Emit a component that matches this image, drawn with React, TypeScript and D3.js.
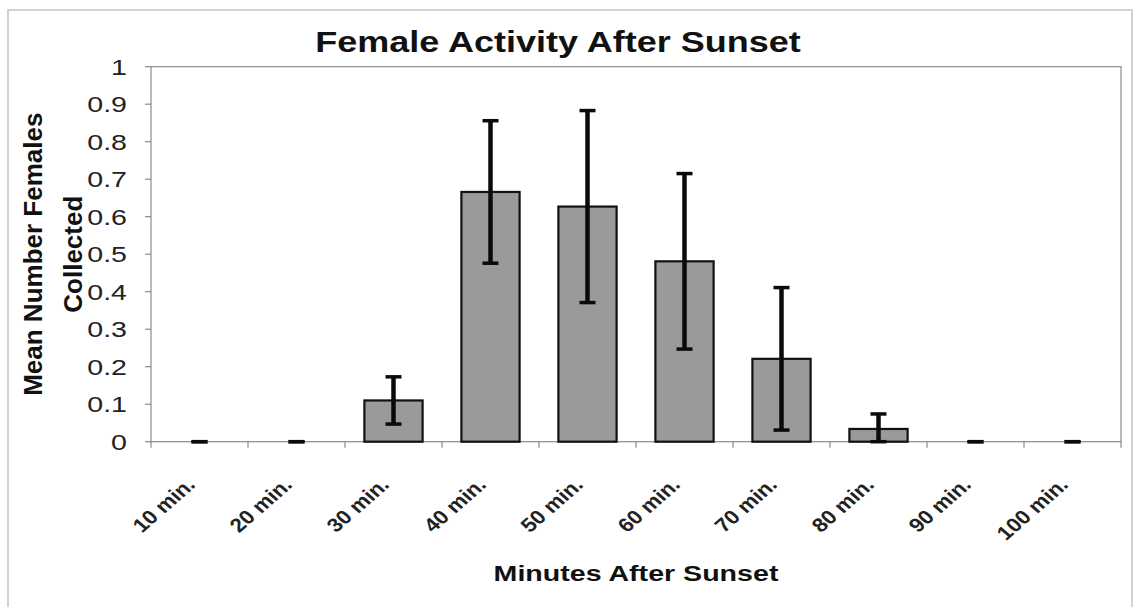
import React from "react";
import * as d3 from "d3";

// Chart data
const categories = [
  "10 min.",
  "20 min.",
  "30 min.",
  "40 min.",
  "50 min.",
  "60 min.",
  "70 min.",
  "80 min.",
  "90 min.",
  "100 min.",
];
const meanFemales = [0, 0, 0.11, 0.666, 0.627, 0.481, 0.221, 0.034, 0, 0];
const errorFemales = [0, 0, 0.063, 0.19, 0.256, 0.234, 0.19, 0.04, 0, 0];
const yTicks = [0, 0.1, 0.2, 0.3, 0.4, 0.5, 0.6, 0.7, 0.8, 0.9, 1];

const title = "Female Activity After Sunset";
const xTitle = "Minutes After Sunset";
const yTitleLines = ["Mean Number Females", "Collected"];

const App = () => {
  const width = 1134;
  const height = 607;
  const plot = { left: 151, right: 1121, top: 66.7, bottom: 441.7 };
  const font = "'Liberation Sans', Arial, sans-serif";
  const sx = 1.3; // horizontal text stretch seen in the picture

  const x = d3
    .scaleBand()
    .domain(categories)
    .range([plot.left, plot.right])
    .paddingInner(0.4)
    .paddingOuter(0.2);

  const y = d3.scaleLinear().domain([0, 1]).range([plot.bottom, plot.top]);

  const data = categories.map((c, i) => ({
    category: c,
    value: meanFemales[i],
    err: errorFemales[i],
  }));

  const step = x.step();
  const bandEdges = d3.range(categories.length + 1).map((i) => plot.left + i * step);
  const capHalf = 8;

  return (
    <svg
      width={width}
      height={height}
      style={{ position: "absolute", left: 0, top: 0, background: "#fff" }}
    >
      {/* outer chart border */}
      <rect x={8} y={10} width={1124} height={600} fill="none" stroke="#c4c4c4" strokeWidth={1.5} />

      {/* plot area frame */}
      <rect
        x={plot.left}
        y={plot.top}
        width={plot.right - plot.left}
        height={plot.bottom - plot.top}
        fill="none"
        stroke="#8a8a8a"
        strokeWidth={1.2}
      />

      {/* y ticks + labels */}
      {yTicks.map((t) => (
        <g key={t}>
          <line x1={plot.left - 6} x2={plot.left} y1={y(t)} y2={y(t)} stroke="#8a8a8a" strokeWidth={1.2} />
          <text
            transform={`translate(127,${y(t)}) scale(${sx},1)`}
            textAnchor="end"
            dy="0.36em"
            fontFamily={font}
            fontSize={22}
            fill="#222"
          >
            {t === 0 || t === 1 ? String(t) : d3.format(".1f")(t)}
          </text>
        </g>
      ))}

      {/* x ticks at category boundaries */}
      {bandEdges.map((e, i) => (
        <line key={i} x1={e} x2={e} y1={plot.bottom} y2={plot.bottom + 6} stroke="#8a8a8a" strokeWidth={1.2} />
      ))}

      {/* bars */}
      {data.map((d) =>
        d.value > 0 ? (
          <rect
            key={d.category}
            x={x(d.category)}
            y={y(d.value)}
            width={x.bandwidth()}
            height={plot.bottom - y(d.value)}
            fill="#9a9a9a"
            stroke="#111"
            strokeWidth={2.2}
          />
        ) : null
      )}

      {/* error bars */}
      {data.map((d) => {
        const cx = (x(d.category) as number) + x.bandwidth() / 2;
        const hi = y(d.value + d.err);
        const lo = y(Math.max(0, d.value - d.err));
        return (
          <g key={d.category} stroke="#0a0a0a">
            <line x1={cx} x2={cx} y1={hi} y2={lo} strokeWidth={4.5} />
            <line x1={cx - capHalf} x2={cx + capHalf} y1={hi} y2={hi} strokeWidth={3.5} />
            <line x1={cx - capHalf} x2={cx + capHalf} y1={lo} y2={lo} strokeWidth={3.5} />
          </g>
        );
      })}

      {/* x category labels */}
      {categories.map((c) => (
        <text
          key={c}
          transform={`translate(${(x(c) as number) + x.bandwidth() / 2 - 3},486) scale(1.15,1) rotate(-45)`}
          textAnchor="end"
          fontFamily={font}
          fontWeight="bold"
          fontSize={19.5}
          fill="#222"
        >
          {c}
        </text>
      ))}

      {/* title */}
      <text
        transform={`translate(558,52) scale(1.2,1)`}
        textAnchor="middle"
        fontFamily={font}
        fontWeight="bold"
        fontSize={30}
        fill="#111"
      >
        {title}
      </text>

      {/* x axis title */}
      <text
        transform={`translate(${(plot.left + plot.right) / 2},581) scale(${sx},1)`}
        textAnchor="middle"
        fontFamily={font}
        fontWeight="bold"
        fontSize={22}
        fill="#111"
      >
        {xTitle}
      </text>

      {/* y axis title, two lines */}
      {yTitleLines.map((line, i) => (
        <text
          key={line}
          transform={`translate(${42 + i * 40},${(plot.top + plot.bottom) / 2}) rotate(-90)`}
          textAnchor="middle"
          fontFamily={font}
          fontWeight="bold"
          fontSize={26}
          fill="#111"
        >
          {line}
        </text>
      ))}
    </svg>
  );
};

export default App;
